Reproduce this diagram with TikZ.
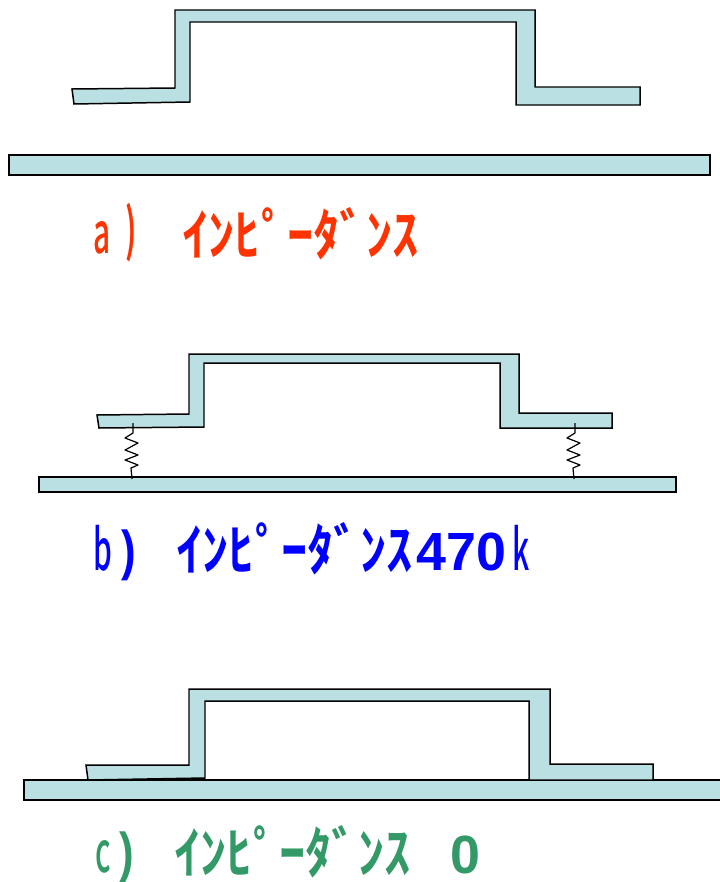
\documentclass[tikz,border=0pt]{standalone}
\usepackage{fontspec}
\newfontfamily\jpb{Noto Sans CJK JP Medium}
\newfontfamily\jpbb{Noto Sans CJK JP Bold}
\setmainfont{Liberation Sans}
\definecolor{plate}{HTML}{BAE0E3}
\definecolor{redt}{HTML}{FF3300}
\definecolor{bluet}{HTML}{0000FF}
\definecolor{greent}{HTML}{339966}
\tikzset{
  plateshape/.style={draw=black,fill=plate,line width=1.5pt,line join=miter},
  kana/.style={inner sep=0pt,anchor=west,xscale=1.015,yscale=1.08,font=\jpbb\fontsize{52}{52}\selectfont},
  letter/.style={inner sep=0pt,anchor=base west,yscale=1.9,font=\jpb\fontsize{30}{30}\selectfont},
  parenb/.style={inner sep=0pt,anchor=base west,yscale=1.25,font=\bfseries\fontsize{44}{44}\selectfont},
  digits/.style={inner sep=0pt,anchor=base west,font=\bfseries\fontsize{54}{54}\selectfont},
  spring/.style={draw=black,line width=1.2pt,line join=round}
}
\begin{document}
\begin{tikzpicture}[x=1bp,y=-1bp]
\useasboundingbox (0,0) rectangle (720,882);
% panel a
\draw[plateshape] (72,89)--(175,88)--(175,10)--(535,10)--(535,87)--(640,87)--(640,105)--(516,105)--(516,22)--(190,22)--(190,102)--(74,104)--cycle;
\draw[plateshape] (9,155) rectangle (710,175);
\node[letter,text=redt] (la) at (93,253) {a};
\node[letter,text=redt,font=\jpbb\fontsize{30}{30}\selectfont] (lap) at (125,250) {)};
\node[kana,text=redt] (ka) at (182,234) {ｲﾝﾋﾟｰﾀﾞﾝｽ};
% panel b
\coordinate (s1t) at (133,423); \coordinate (s1b) at (132,479);
\coordinate (s2t) at (575,423); \coordinate (s2b) at (574,479);
\draw[plateshape] (39,477) rectangle (676,492);
\draw[plateshape] (97,415)--(189,414)--(189,354)--(519,354)--(519,413)--(612,413)--(612,428)--(500,428)--(500,363)--(204,363)--(204,427)--(99,428)--cycle;
\draw[spring] (s1t)--++(0,10)--++(-8,5)--++(13,5)--++(-13,7)--++(13,5)--++(-13,5)--++(13,5)--++(-7,3)--(s1b);
\draw[spring] (s2t)--++(0,10)--++(-8,5)--++(13,5)--++(-13,7)--++(13,5)--++(-13,5)--++(13,5)--++(-7,3)--(s2b);
\node[letter,text=bluet] (lb) at (93,570) {b};
\node[parenb,text=bluet] (lbp) at (121,569) {)};
\node[kana,text=bluet] (kb) at (176,549) {ｲﾝﾋﾟｰﾀﾞﾝｽ};
\node[digits,text=bluet] (nb) at (416,570) {470};
\node[letter,text=bluet] (lk) at (512,570) {k};
% panel c
\draw[plateshape] (24,780) rectangle (730,800);
\draw[plateshape] (86,765)--(189,765)--(189,689)--(550,689)--(550,764)--(653,764)--(653,780)--(529,780)--(529,701)--(205,701)--(205,778)--(88,780)--cycle;
\node[letter,text=greent] (lc) at (95,872) {c};
\node[parenb,text=greent] (lcp) at (119,871) {)};
\node[kana,text=greent] (kc) at (174,852) {ｲﾝﾋﾟｰﾀﾞﾝｽ};
\node[digits,text=greent] (nc) at (450,873) {0};
\end{tikzpicture}
\end{document}
